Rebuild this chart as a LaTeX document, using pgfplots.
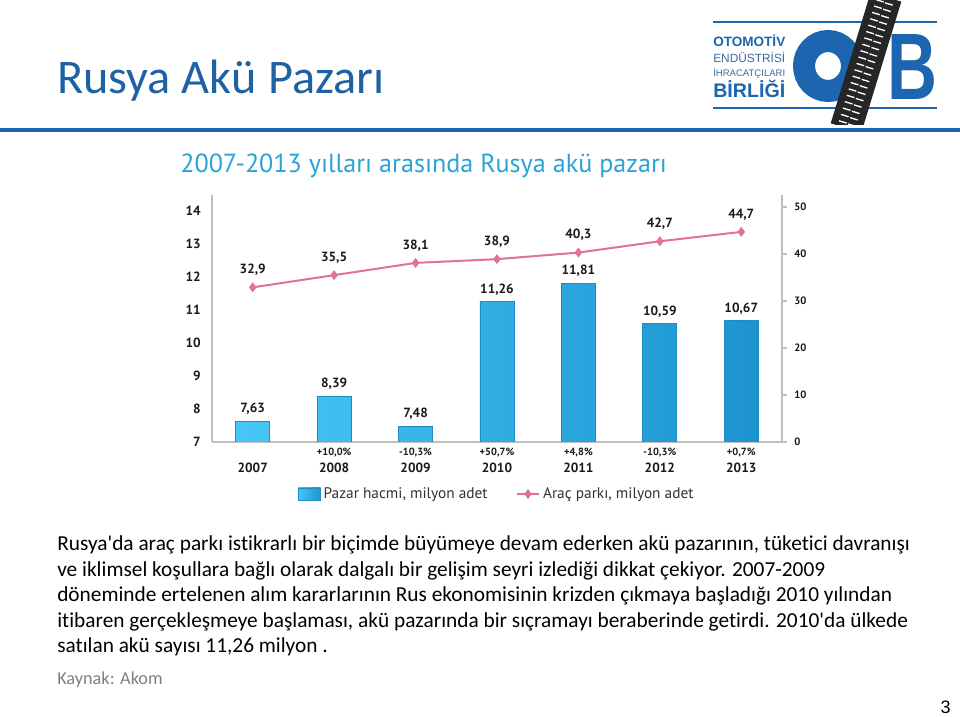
\documentclass[border=0pt]{standalone}
\usepackage{fontspec}
\usepackage{pgfplots}
\pgfplotsset{compat=1.18}
\setmainfont{Carlito}[Ligatures={CommonOff,TeXOff}]
\newfontfamily\ptsans{PT Sans}
\newfontfamily\arialf{Liberation Sans}
\definecolor{titleblue}{HTML}{1E62A4}
\definecolor{charttitle}{HTML}{2AA4D6}
\definecolor{barlight}{HTML}{46C7F6}
\definecolor{bardark}{HTML}{1C93CF}
\definecolor{baredge}{HTML}{1A8CC6}
\definecolor{linepink}{HTML}{E2709C}
\definecolor{axisgray}{HTML}{BFBFBF}
\definecolor{labelcol}{HTML}{1A1A1A}
\definecolor{legendtext}{HTML}{333333}
\definecolor{logoblue}{HTML}{1B66AE}
\definecolor{logotext}{HTML}{3C6C9E}
\pgfplotsset{/pgf/number format/assume math mode=true}
\begin{document}
\begin{tikzpicture}
\begin{scope}[x=0.75pt,y=0.75pt]
\path[fill=white, use as bounding box] (0,0) rectangle (960,717);
% slide title
\node[anchor=base west, inner sep=0, text=titleblue] at (57,717-94) {\fontsize{36.2}{40}\selectfont Rusya Akü Pazarı};
% logo
\draw[logoblue, line width=1.5pt] (713,717-22) -- (937,717-22);
\draw[logoblue, line width=1.5pt] (713,717-108) -- (937,717-108);
\node[anchor=base west, inner sep=0, text=logoblue] at (713,717-47) {\resizebox{54pt}{!}{\arialf\bfseries OTOMOTİV}};
\node[anchor=base west, inner sep=0, text=logotext] at (713,717-63) {\resizebox{54pt}{!}{\arialf ENDÜSTRİSİ}};
\node[anchor=base west, inner sep=0, text=logotext] at (713,717-77) {\resizebox{54pt}{!}{\arialf İHRACATÇILARI}};
\node[anchor=base west, inner sep=0, text=logoblue] at (713,717-98) {\resizebox{54pt}{!}{\arialf\bfseries BİRLİĞİ}};
\draw[logoblue, line width=16.5pt] (828,717-66) ellipse [x radius=24, y radius=25];
\node[inner sep=0, text=logoblue] at (912,717-67) {\resizebox{37.5pt}{48.75pt}{\arialf\bfseries B}};
\begin{scope}
\clip (0,717-125) rectangle (960,717);
\draw[black!85, line width=24pt] (886,720) -- (846,717-128);
\draw[white, line width=6pt, dash pattern=on 1pt off 4pt] (891,720) -- (851,717-128);
\draw[white, line width=6pt, dash pattern=on 1pt off 4pt, dash phase=2.5pt] (881,720) -- (841,717-128);
\end{scope}
% separator
\fill[logoblue] (0,717-132) rectangle (960,717-128);
% chart title
\node[anchor=base west, inner sep=0, text=charttitle] at (180,717-173) {\ptsans\fontsize{19.6}{22}\selectfont 2007-2013 yılları arasında Rusya akü pazarı};
% body text
\node[anchor=base west, inner sep=0] at (57,717-551) {\fontsize{16}{19}\selectfont Rusya'da araç parkı istikrarlı bir biçimde büyümeye devam ederken akü pazarının, tüketici davranışı};
\node[anchor=base west, inner sep=0] at (57,717-576.5) {\fontsize{16}{19}\selectfont ve iklimsel koşullara bağlı olarak dalgalı bir gelişim seyri izlediği dikkat çekiyor. 2007-2009};
\node[anchor=base west, inner sep=0] at (57,717-602) {\fontsize{16}{19}\selectfont döneminde ertelenen alım kararlarının Rus ekonomisinin krizden çıkmaya başladığı 2010 yılından};
\node[anchor=base west, inner sep=0] at (57,717-627.5) {\fontsize{16}{19}\selectfont itibaren gerçekleşmeye başlaması, akü pazarında bir sıçramayı beraberinde getirdi. 2010'da ülkede};
\node[anchor=base west, inner sep=0] at (57,717-653) {\fontsize{16}{19}\selectfont satılan akü sayısı 11,26 milyon .};
\node[anchor=base west, inner sep=0, text=black!50] at (57,717-685) {\fontsize{13.7}{16}\selectfont Kaynak: Akom};
\node[anchor=base east, inner sep=0] at (951,717-714) {\arialf\fontsize{13.5}{15}\selectfont 3};
\end{scope}
% bars axis
\begin{axis}[
  at={(159pt,206.25pt)}, anchor=south west,
  scale only axis, width=427.5pt, height=185.25pt,
  xmin=-0.5, xmax=6.5, ymin=7, ymax=14.485,
  axis x line*=bottom, axis y line*=left,
  axis line style={draw=axisgray, line width=0.8pt, -},
  xtick={0,...,6}, xticklabels={2007,2008,2009,2010,2011,2012,2013},
  ytick={7,8,...,14},
  major tick length=0pt,
  tick label style={font=\ptsans\bfseries\fontsize{10}{12}\selectfont, text=labelcol},
  xticklabel style={yshift=-12pt},
  yticklabel style={xshift=-5pt},
  ybar, bar width=25.5pt,
]
\addplot[ybar, left color=barlight, right color=bardark, draw=baredge, line width=0.6pt,
  nodes near coords={\pgfmathprintnumber[use comma,fixed,fixed zerofill,precision=2]{\pgfplotspointmeta}},
  every node near coord/.append style={font=\ptsans\bfseries\fontsize{10}{12}\selectfont, text=labelcol, anchor=south, inner sep=0pt, yshift=4.5pt}]
coordinates {(0,7.63) (1,8.39) (2,7.48) (3,11.26) (4,11.81) (5,10.59) (6,10.67)};
\end{axis}
% line axis
\begin{axis}[
  at={(159pt,206.25pt)}, anchor=south west,
  scale only axis, width=427.5pt, height=185.25pt,
  xmin=-0.5, xmax=6.5, ymin=0, ymax=52.55,
  axis y line*=right, axis x line*=bottom,
  axis line style={draw=axisgray, line width=0.8pt, -},
  x axis line style={draw=none},
  xtick={0,...,6},
  xticklabels={{},{+10,0\%},{-10,3\%},{+50,7\%},{+4,8\%},{-10,3\%},{+0,7\%}},
  xtick style={draw=none},
  ytick={0,10,...,50},
  ytick style={draw=axisgray, line width=0.8pt},
  tick align=outside, major tick length=3.75pt,
  yticklabel style={font=\ptsans\bfseries\fontsize{8}{10}\selectfont, text=labelcol, xshift=2pt},
  xticklabel style={font=\ptsans\bfseries\fontsize{7.8}{9}\selectfont, text=labelcol, yshift=2.5pt},
  clip=false,
  legend columns=2,
  legend style={at={(0.5,-0.2105)}, anchor=center, draw=none, fill=none,
    font=\ptsans\fontsize{11.5}{13}\selectfont, text=legendtext,
    /tikz/every even column/.append style={column sep=19pt}},
]
\addlegendimage{legend image code/.code={\draw[left color=barlight, right color=bardark, draw=baredge] (0pt,-4.5pt) rectangle (17pt,4.5pt);}}
\addlegendentry{Pazar hacmi, milyon adet}
\addplot[linepink, line width=1.5pt, mark=diamond*, mark size=2.5pt,
  mark options={fill=linepink, draw=linepink},
  nodes near coords={\pgfmathprintnumber[use comma,fixed,fixed zerofill,precision=1]{\pgfplotspointmeta}},
  every node near coord/.append style={font=\ptsans\bfseries\fontsize{10}{12}\selectfont, text=labelcol, anchor=south, inner sep=0pt, yshift=8pt}]
coordinates {(0,32.9) (1,35.5) (2,38.1) (3,38.9) (4,40.3) (5,42.7) (6,44.7)};
\addlegendentry{Araç parkı, milyon adet}
\end{axis}
\end{tikzpicture}
\end{document}
